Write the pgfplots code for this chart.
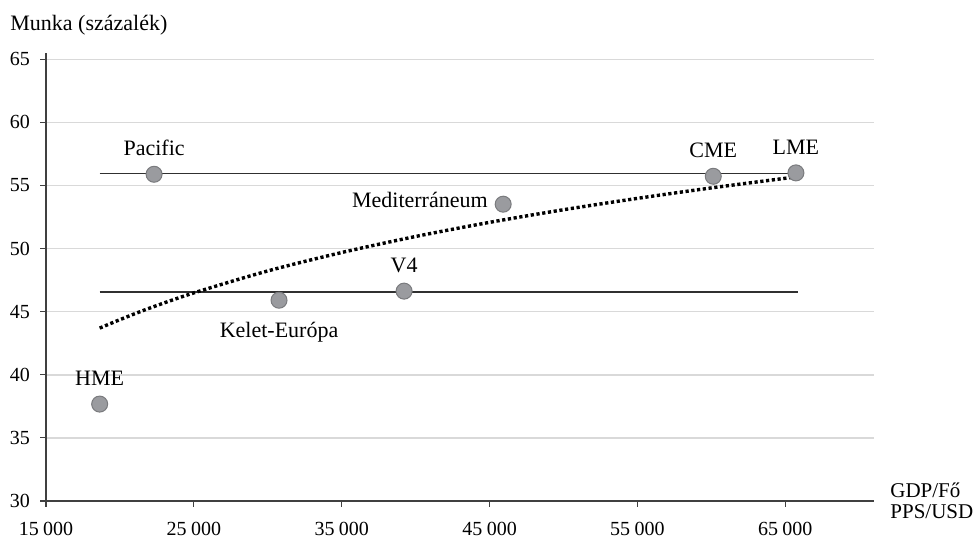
\documentclass[border=0pt]{standalone}
\usepackage{fontspec}
\setmainfont{Liberation Serif}
\usepackage{pgfplots}
\pgfplotsset{compat=1.18}
\definecolor{gridgray}{HTML}{D9D9D9}
\definecolor{axisgray}{HTML}{404040}
\definecolor{linegray}{HTML}{303030}
\definecolor{markfill}{HTML}{9A9B9F}
\definecolor{markdraw}{HTML}{7A7B7E}

\pgfplotsset{
  grp/.style={
    only marks,
    mark=*, mark size=4pt,
    mark options={fill=markfill, draw=markdraw, line width=0.5pt},
    point meta=explicit symbolic,
    nodes near coords,
    every node near coord/.append style={
      font=\fontsize{11}{13}\selectfont, text=black, inner sep=0pt},
  },
}

\begin{document}
\begin{tikzpicture}
\begin{axis}[
  scale only axis,
  width=414pt, height=224pt,
  xmin=15000, xmax=71000,
  ymin=30, ymax=65.5,
  axis lines=left,
  axis line style={-, axisgray, line width=0.6pt},
  xtick={15000,25000,...,65000},
  ytick={30,35,...,65},
  ymajorgrids,
  grid style={gridgray, line width=0.75pt},
  tick align=outside,
  major tick length=3pt,
  tick style={axisgray, line width=0.6pt},
  scaled x ticks=false,
  /pgf/number format/assume math mode=true,
  /pgf/number format/1000 sep={\hspace{0.22em}},
  ticklabel style={font=\fontsize{10}{12}\selectfont},
  x tick label style={yshift=-4pt},
  y tick label style={xshift=-1.5pt},
  clip=false,
]
% the two reference levels
\addplot[linegray, line width=0.9pt] coordinates {(18630,55.95) (65720,55.95)};
\addplot[linegray, line width=0.9pt] coordinates {(18630,46.55) (65850,46.55)};

% logarithmic trend line
\addplot[black, line width=1.7pt, dash pattern=on 1.6pt off 1.3pt, smooth] coordinates {
  (18630,43.70) (20000,44.37) (22000,45.28) (25000,46.49) (30000,48.23)
  (35000,49.69) (40000,50.96) (45000,52.08) (50000,53.08) (55000,53.98)
  (60000,54.81) (65720,55.68)
};

% groups labelled above
\addplot[grp, every node near coord/.append style={anchor=base, yshift=9.2pt}] coordinates {
  (18630,37.68) [HME]
  (22310,55.89) [Pacific]
  (39220,46.63) [V4]
  (60130,55.73) [CME]
  (65720,56.00) [LME]
};
% labelled below
\addplot[grp, every node near coord/.append style={anchor=base, yshift=-18.5pt}] coordinates {
  (30760,45.91) [Kelet-Európa]
};
% labelled on the left
\addplot[grp, every node near coord/.append style={anchor=base east, xshift=-7.5pt, yshift=-1.5pt}] coordinates {
  (45920,53.52) [Mediterráneum]
};

% axis titles
\node[anchor=base west, font=\fontsize{11}{13}\selectfont, inner sep=0pt]
  at ([xshift=-18pt, yshift=11pt]rel axis cs:0,1) {Munka (százalék)};
\node[anchor=west, align=left, font=\fontsize{10.5}{10.5}\selectfont, inner sep=0pt]
  at ([xshift=8pt]rel axis cs:1,0) {GDP/Fő\\PPS/USD};

% page frame matching the reference
\path ([xshift=-23pt, yshift=-18pt]rel axis cs:0,0) rectangle ([xshift=52pt, yshift=26.5pt]rel axis cs:1,1);
\end{axis}
\end{tikzpicture}
\end{document}
